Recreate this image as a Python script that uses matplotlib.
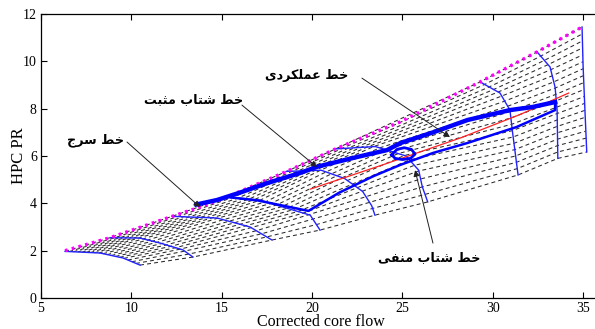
import numpy as np
import matplotlib.pyplot as plt

plt.rcParams['font.family'] = ['Liberation Serif', 'DejaVu Sans']

# constant-speed lines, each from the surge end to the choke end
n1_x = [6.33, 8.27, 9.54, 10.48]
n1_y = [1.97, 1.90, 1.69, 1.39]
n2_x = [8.82, 10.48, 11.60, 12.86, 13.41]
n2_y = [2.55, 2.53, 2.32, 2.03, 1.73]
n3_x = [12.25, 14.74, 16.57, 17.78]
n3_y = [3.45, 3.38, 3.00, 2.45]
n4_x = [15.30, 17.10, 18.40, 19.90, 20.44]
n4_y = [4.27, 4.14, 3.84, 3.50, 2.87]
n5_x = [18.60, 20.50, 21.80, 22.80, 23.30, 23.48]
n5_y = [5.35, 5.40, 5.05, 4.50, 3.90, 3.50]
n6_x = [21.30, 23.50, 25.20, 25.90, 26.10, 26.40]
n6_y = [6.30, 6.40, 6.00, 5.40, 4.70, 4.06]
n7_x = [29.30, 30.40, 30.95, 31.10, 31.40]
n7_y = [9.13, 8.66, 7.94, 6.97, 5.20]
n8_x = [32.45, 33.17, 33.45, 33.56, 33.60]
n8_y = [10.40, 9.76, 8.90, 7.94, 5.90]
n9_x = [34.94, 35.00, 35.10, 35.20]
n9_y = [11.45, 9.76, 7.94, 6.17]

# surge line
surge_x = [6.33, 8.82, 12.25, 13.80, 15.30, 18.60, 21.30, 24.87, 29.30, 32.45, 34.94]
surge_y = [2.00, 2.55, 3.45, 3.84, 4.27, 5.35, 6.30, 7.44, 9.13, 10.40, 11.45]

# steady-state operating line
op_x = [19.90, 24.00, 28.20, 31.50, 34.20]
op_y = [4.60, 5.65, 6.76, 7.75, 8.66]

# acceleration and deceleration transients
acc_x = [13.60, 14.74, 16.00, 17.50, 19.33, 20.30, 22.50, 24.15, 24.90, 26.70, 28.60, 30.95, 32.20, 33.45]
acc_y = [3.95, 4.14, 4.45, 4.85, 5.28, 5.55, 5.96, 6.25, 6.55, 7.00, 7.52, 7.94, 8.07, 8.28]
dec_x = [33.45, 33.45, 31.30, 28.60, 26.70, 24.87, 23.40, 21.50, 19.80, 18.40, 17.00, 15.50]
dec_y = [8.28, 7.94, 7.22, 6.55, 6.13, 5.62, 5.15, 4.45, 3.68, 3.90, 4.12, 4.25]
loop_x = [24.40, 24.70, 25.10, 25.50, 25.70, 25.45, 25.00, 24.60, 24.40]
loop_y = [6.05, 6.28, 6.35, 6.28, 6.08, 5.90, 5.85, 5.90, 6.05]

x_ticks = [5, 10, 15, 20, 25, 30, 35]
y_ticks = [0, 2, 4, 6, 8, 10, 12]

lbl_surge = 'خط سرج'
lbl_acc = 'خط شتاب مثبت'
lbl_op = 'خط عملکردی'
lbl_dec = 'خط شتاب منفی'

# contextual glyph forms: isolated, final, initial, medial
FORMS = {
    'ا': ('\ufe8d', '\ufe8e', None, None),
    'ب': ('\ufe8f', '\ufe90', '\ufe91', '\ufe92'),
    'ت': ('\ufe95', '\ufe96', '\ufe97', '\ufe98'),
    'ث': ('\ufe99', '\ufe9a', '\ufe9b', '\ufe9c'),
    'ج': ('\ufe9d', '\ufe9e', '\ufe9f', '\ufea0'),
    'خ': ('\ufea5', '\ufea6', '\ufea7', '\ufea8'),
    'د': ('\ufea9', '\ufeaa', None, None),
    'ر': ('\ufead', '\ufeae', None, None),
    'س': ('\ufeb1', '\ufeb2', '\ufeb3', '\ufeb4'),
    'ش': ('\ufeb5', '\ufeb6', '\ufeb7', '\ufeb8'),
    'ط': ('\ufec1', '\ufec2', '\ufec3', '\ufec4'),
    'ع': ('\ufec9', '\ufeca', '\ufecb', '\ufecc'),
    'ف': ('\ufed1', '\ufed2', '\ufed3', '\ufed4'),
    'ل': ('\ufedd', '\ufede', '\ufedf', '\ufee0'),
    'م': ('\ufee1', '\ufee2', '\ufee3', '\ufee4'),
    'ن': ('\ufee5', '\ufee6', '\ufee7', '\ufee8'),
    'ک': ('\ufb8e', '\ufb8f', '\ufb90', '\ufb91'),
    'ی': ('\ufbfc', '\ufbfd', '\ufbfe', '\ufbff'),
}


def shape(s):
    # join letters and put them in display order (right to left)
    out = []
    for i, c in enumerate(s):
        if c not in FORMS:
            out.append(c)
            continue
        prev = s[i - 1] if i > 0 else ''
        nxt = s[i + 1] if i + 1 < len(s) else ''
        jp = prev in FORMS and FORMS[prev][2] is not None
        jn = FORMS[c][2] is not None and nxt in FORMS
        iso, fin, ini, med = FORMS[c]
        out.append(med if (jp and jn) else fin if jp else ini if jn else iso)
    return ''.join(reversed(out))


def resample(x, y, m):
    x = np.asarray(x, float)
    y = np.asarray(y, float)
    d = np.r_[0, np.cumsum(np.hypot(np.diff(x), np.diff(y)))]
    t = np.linspace(0, d[-1], m)
    return np.interp(t, d, x), np.interp(t, d, y)


fig = plt.figure(figsize=(5.95, 3.29), dpi=100)
ax = fig.add_axes([41 / 595, 31 / 329, 560.2 / 595, 284 / 329])

# lines of constant pressure-ratio fraction across the speed lines
speeds = [(n1_x, n1_y), (n2_x, n2_y), (n3_x, n3_y), (n4_x, n4_y), (n5_x, n5_y),
          (n6_x, n6_y), (n7_x, n7_y), (n8_x, n8_y), (n9_x, n9_y)]
m = 19
res = np.array([resample(x, y, m) for x, y in speeds])
for j in range(m):
    ax.plot(res[:, 0, j], res[:, 1, j], color='#2a2a2a', lw=0.75, ls=(0, (3.8, 3.0)))

for x, y in speeds:
    ax.plot(x, y, color='#2222ff', lw=1.0)

ax.plot(surge_x, surge_y, color='#ff00ff', lw=2.4, ls=(0, (0.8, 1.3)))
ax.plot(op_x, op_y, color='#ff2020', lw=0.9)

ax.plot(dec_x, dec_y, color='#0000ff', lw=1.8, solid_joinstyle='round')
ax.plot(acc_x, acc_y, color='#0000ff', lw=3.2, solid_joinstyle='round')
ax.plot(loop_x, loop_y, color='#0000ff', lw=2.0)

# labels with arrows
tfont = dict(family='DejaVu Sans', weight='bold', fontsize=9.2, ha='center', va='center')
aprops = dict(arrowstyle='-|>', color='#202020', lw=0.7, mutation_scale=9,
              shrinkA=0, shrinkB=0)
ax.text(7.99, 6.67, shape(lbl_surge), **tfont)
ax.annotate('', xy=(13.8, 3.84), xytext=(9.76, 6.59), arrowprops=aprops)
ax.text(13.47, 8.37, shape(lbl_acc), **tfont)
ax.annotate('', xy=(20.27, 5.53), xytext=(16.12, 8.15), arrowprops=aprops)
ax.text(19.72, 9.42, shape(lbl_op), **tfont)
ax.annotate('', xy=(27.63, 6.8), xytext=(22.76, 9.29), arrowprops=aprops)
ax.text(26.47, 1.69, shape(lbl_dec), **tfont)
ax.annotate('', xy=(25.7, 5.4), xytext=(26.69, 2.32), arrowprops=aprops)

ax.set_xlim(5, 36)
ax.set_ylim(0, 12)
ax.set_xticks(x_ticks)
ax.set_yticks(y_ticks)
ax.tick_params(direction='in', top=True, right=True, length=4, width=0.8,
               labelsize=10, pad=3)
for s in ax.spines.values():
    s.set_linewidth(0.9)
ax.set_xlabel('Corrected core flow', fontsize=11.5, labelpad=-1)
ax.set_ylabel('HPC PR', fontsize=12, labelpad=-3)

fig.savefig('out.png', dpi=100)
